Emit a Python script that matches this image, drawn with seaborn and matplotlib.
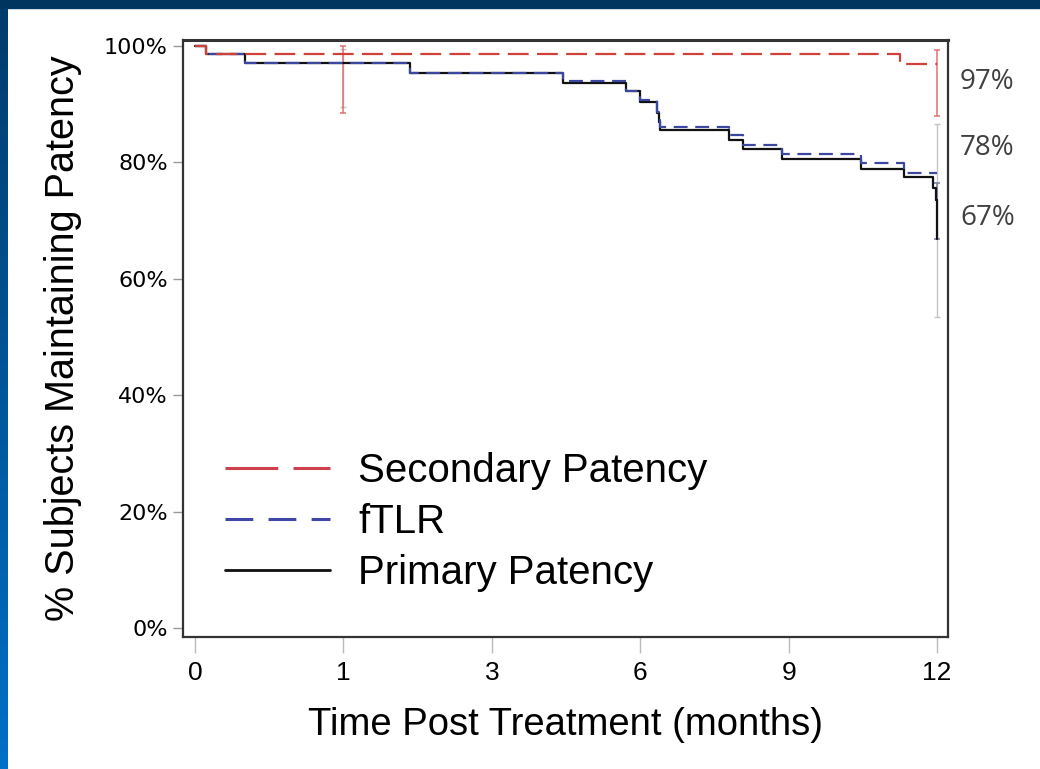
import numpy as np
import pandas as pd
import matplotlib
matplotlib.use("Agg")
import matplotlib.pyplot as plt
import seaborn as sns
from matplotlib.lines import Line2D
from matplotlib.patches import Rectangle
from matplotlib.colors import LinearSegmentedColormap

# ---- data -------------------------------------------------------------
month_ticks = [0, 1, 3, 6, 9, 12]

secondary_t = [0, 0.074, 11.25, 12]
secondary_s = [100, 98.6, 96.8, 96.8]

ftlr_t = [0, 0.074, 0.337, 1.90, 4.44, 5.71, 6.0, 6.34, 6.37, 6.40,
          7.80, 8.08, 8.87, 10.46, 11.33, 12]
ftlr_s = [100, 98.6, 97.0, 95.4, 93.9, 92.3, 90.7, 88.7, 87.3, 86.1,
          84.6, 83.0, 81.4, 79.8, 78.1, 78.1]

primary_t = [0, 0.074, 0.337, 1.90, 4.44, 5.71, 6.0, 6.34, 6.37, 6.40,
             7.80, 8.08, 8.87, 10.46, 11.33, 11.92, 11.97, 12]
primary_s = [100, 98.6, 97.0, 95.4, 93.6, 92.3, 90.3, 88.5, 87.0, 85.6,
             83.8, 82.2, 80.5, 78.9, 77.4, 75.5, 73.5, 66.8]

# confidence intervals at 1 and 12 months
secondary_ci_t = [1, 12]
secondary_ci_lo = [88.5, 88.0]
secondary_ci_hi = [100.0, 99.3]

ftlr_ci_t = [1, 12]
ftlr_ci_lo = [89.5, 53.4]
ftlr_ci_hi = [99.5, 86.6]

primary_ci_t = [12]
primary_ci_lo = [66.8]
primary_ci_hi = [76.5]

series_names = ["Secondary Patency", "fTLR", "Primary Patency"]
y_ticks = [0, 20, 40, 60, 80, 100]

# ---- style ------------------------------------------------------------
sns.set_style("white")
plt.rcParams["font.family"] = ["Liberation Sans", "DejaVu Sans"]
plt.rcParams["lines.scale_dashes"] = False
plt.rcParams["text.color"] = "black"
plt.rcParams["axes.labelcolor"] = "black"
plt.rcParams["xtick.color"] = "black"
plt.rcParams["ytick.color"] = "black"

RED = "#cf4038"
BLUE = "#3c48a0"
BLACK = "#111111"

fig = plt.figure(figsize=(10.4, 7.69), dpi=100)
fig.patch.set_facecolor("white")

ax = fig.add_axes([183 / 1040, 132 / 769, 765 / 1040, 597 / 769])

# time axis: equal spacing between the labelled months
ext_m = np.array([-1.0] + month_ticks + [15.0])
ext_p = np.array([-1.0, 0, 1, 2, 3, 4, 5, 6])


def fwd(x):
    return np.interp(x, ext_m, ext_p)


def inv(p):
    return np.interp(p, ext_p, ext_m)


ax.set_xscale("function", functions=(fwd, inv))

# ---- confidence interval bars -----------------------------------------
def ci_bars(t, lo, hi, color, lw, z):
    lo = np.asarray(lo)
    hi = np.asarray(hi)
    ax.errorbar(t, lo, yerr=[np.zeros_like(lo), hi - lo], fmt="none",
                ecolor=color, elinewidth=lw, capsize=2.5, capthick=lw,
                zorder=z)


ci_bars(ftlr_ci_t, ftlr_ci_lo, ftlr_ci_hi, "#c4c4c8", 1.0, 1)
ci_bars(primary_ci_t, primary_ci_lo, primary_ci_hi, "#7c84a4", 1.2, 1.5)
ci_bars(secondary_ci_t, secondary_ci_lo, secondary_ci_hi, "#e07070", 1.1, 2)

# ---- survival curves --------------------------------------------------
df_p = pd.DataFrame({"month": primary_t, "pct": primary_s})
df_f = pd.DataFrame({"month": ftlr_t, "pct": ftlr_s})
df_s = pd.DataFrame({"month": secondary_t, "pct": secondary_s})

sns.lineplot(data=df_p, x="month", y="pct", ax=ax, estimator=None,
             sort=False, drawstyle="steps-post", color=BLACK, lw=1.6,
             zorder=3)
sns.lineplot(data=df_f, x="month", y="pct", ax=ax, estimator=None,
             sort=False, drawstyle="steps-post", color=BLUE, lw=1.6,
             linestyle=(0, (10, 5.5)), zorder=4)
sns.lineplot(data=df_s, x="month", y="pct", ax=ax, estimator=None,
             sort=False, drawstyle="steps-post", color=RED, lw=1.6,
             linestyle=(0, (15, 6)), zorder=5)

# ---- axes -------------------------------------------------------------
ax.set_xlim(-0.081, 12.22)
ax.set_ylim(-1.55, 101.0)
ax.set_xticks(month_ticks)
ax.set_xticklabels([str(m) for m in month_ticks],
                   family=["Liberation Sans Narrow", "Liberation Sans"],
                   fontsize=19)
ax.set_yticks(y_ticks)
ax.set_yticklabels([f"{v}%" for v in y_ticks], family=["DejaVu Sans"],
                   fontsize=16)
ax.tick_params(axis="x", direction="out", length=11.5, width=1,
               color="#bbbbbb", pad=6, bottom=True)
ax.tick_params(axis="y", direction="out", length=7, width=1,
               color="#999999", pad=4, left=True)

for sp in ax.spines.values():
    sp.set_color("#333333")
    sp.set_linewidth(1.6)
ax.spines["top"].set_linewidth(2.2)

ax.set_xlabel("Time Post Treatment (months)", fontsize=27.5, va="top")
ax.set_ylabel("% Subjects Maintaining Patency", fontsize=28.5)
ax.xaxis.set_label_coords(0.5, -0.118)
ax.yaxis.set_label_coords(-0.132, 0.5)

# ---- legend -----------------------------------------------------------
handles = [
    Line2D([], [], color="#d0404c", lw=2.2, linestyle=(0, (38, 11))),
    Line2D([], [], color="#4046a8", lw=2.2, linestyle=(0, (20, 11))),
    Line2D([], [], color=BLACK, lw=2.0),
]
leg = ax.legend(handles, series_names, loc="center left",
                bbox_to_anchor=(0.055, 0.193), frameon=False, fontsize=29,
                handlelength=2.6, handletextpad=0.7, labelspacing=0.32,
                borderpad=0, borderaxespad=0)

# ---- end-of-follow-up labels ------------------------------------------
final_values = [secondary_s[-1], ftlr_s[-1], primary_s[-1]]
label_offsets = [(23, -18), (23, 25), (23, 21)]
for v, (dx, dy) in zip(final_values, label_offsets):
    ax.annotate(f"{v:.0f}%", xy=(12, v), xytext=(dx, dy),
                textcoords="offset pixels", ha="left", va="center",
                fontsize=20, color="#404040",
                family=["Open Sans", "DejaVu Sans"], annotation_clip=False)

# ---- slide frame ------------------------------------------------------
fig.add_artist(Rectangle((0, 1 - 8 / 769), 1, 8 / 769,
                         transform=fig.transFigure, color="#003560",
                         zorder=10))
band = fig.add_axes([0, 0, 8 / 1040, 1 - 8 / 769])
grad = np.linspace(0, 1, 256).reshape(-1, 1)
cmap = LinearSegmentedColormap.from_list("band", ["#003c6c", "#0070c8"])
band.imshow(grad, aspect="auto", cmap=cmap, origin="upper")
band.set_axis_off()

fig.savefig("out.png", dpi=100, facecolor=fig.get_facecolor())
